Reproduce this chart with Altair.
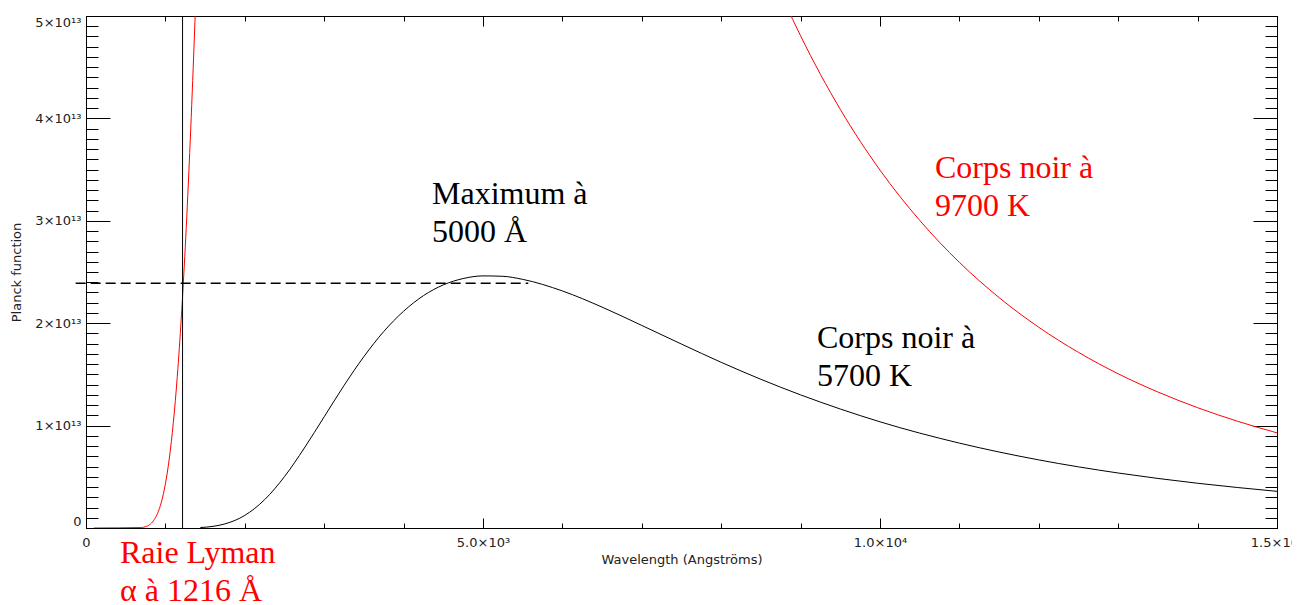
import altair as alt
import pandas as pd

# ---- data (wavelength in Angstroms, Planck function in SI) ----
BLACK_WL = [1440, 1600, 1750, 2000, 2250, 2500, 2750, 3000, 3250, 3500, 3750, 4000,
            4250, 4500, 4750, 5000, 5250, 5500, 6000, 6500, 7000, 7500, 8000, 8500,
            9000, 9500, 10000, 11000, 12000, 13000, 14000, 15000]
BLACK_B = [0.0047e13, 0.016e13, 0.040e13, 0.123e13, 0.277e13, 0.502e13, 0.781e13, 1.086e13,
           1.392e13, 1.674e13, 1.919e13, 2.117e13, 2.269e13, 2.374e13, 2.436e13, 2.462e13,
           2.458e13, 2.428e13, 2.315e13, 2.157e13, 1.978e13, 1.796e13, 1.618e13, 1.452e13,
           1.300e13, 1.162e13, 1.037e13, 0.829e13, 0.665e13, 0.537e13, 0.437e13, 0.358e13]

RED_WL = [100, 700, 750, 800, 850, 900, 950, 1000, 1050, 1100, 1150, 1200, 1250, 1300,
          1350, 1400, 1450, 8500, 8800, 8900, 9000, 9500, 10000, 10500, 11000, 11500,
          12000, 12500, 13000, 13500, 14000, 14500, 15000]
RED_B = [0.0, 0.0044e13, 0.0129e13, 0.032e13, 0.0708e13, 0.140e13, 0.255e13, 0.431e13,
         0.684e13, 1.030e13, 1.482e13, 2.051e13, 2.742e13, 3.556e13, 4.494e13, 5.545e13,
         6.702e13, 5.680e13, 5.134e13, 4.967e13, 4.806e13, 4.088e13, 3.495e13, 3.004e13,
         2.594e13, 2.250e13, 1.960e13, 1.715e13, 1.506e13, 1.328e13, 1.175e13, 1.043e13,
         0.929e13]

LYMAN_WL = [1216]
LYMAN_B0 = [0.0]
LYMAN_B1 = [5e13]

DASH_WL0 = [-130]
DASH_WL1 = [5570]
DASH_B = [2.39e13]

ANN_TEXT = ["Maximum à\n5000 Å", "Corps noir à\n5700 K", "Corps noir à\n9700 K",
            "Raie Lyman\nα à 1216 Å"]
ANN_WL = [4358, 9206, 10692, 428]
ANN_B = [3.161e13, 1.758e13, 3.415e13, -0.345e13]
ANN_COLOR = ["#000000", "#000000", "#ff0000", "#ff0000"]

X_TICKS = [0, 5000, 10000, 15000]
X_TICK_LABELS = ["0", "5.0×10³", "1.0×10⁴", "1.5×10⁴"]
Y_TICKS = [0, 1e13, 2e13, 3e13, 4e13, 5e13]
Y_TICK_LABELS = ["0", "1×10¹³", "2×10¹³", "3×10¹³", "4×10¹³", "5×10¹³"]
X_MINOR = list(range(0, 15001, 1000))
Y_MINOR = [i * 1e12 for i in range(51)]

W, H = 1191, 512
xs = alt.Scale(domain=[0, 15000], nice=False, zero=False)
ys = alt.Scale(domain=[0, 5e13], nice=False, zero=False)


def label_expr(vals, labels):
    parts = [f"datum.value == {v:.0f} ? '{l}'" for v, l in zip(vals, labels)]
    return " : ".join(parts) + " : ''"


def tick_axis(orient, values, size, offset, domain=False):
    return alt.Axis(orient=orient, values=values, tickSize=size, offset=offset,
                    labels=False, domain=domain, grid=False, title=None,
                    tickColor="#000000", tickWidth=1, domainColor="#000000", domainWidth=1)


red_df = pd.DataFrame({"wl": RED_WL, "b": RED_B})
black_df = pd.DataFrame({"wl": BLACK_WL, "b": BLACK_B})
lyman_df = pd.DataFrame({"wl": LYMAN_WL, "b0": LYMAN_B0, "b1": LYMAN_B1})
dash_df = pd.DataFrame({"wl0": DASH_WL0, "wl1": DASH_WL1, "b": DASH_B})
ann_df = pd.DataFrame({"t": ANN_TEXT, "wl": ANN_WL, "b": ANN_B, "c": ANN_COLOR})

x_main_axis = alt.Axis(orient="bottom", values=X_TICKS,
                       labelExpr=label_expr(X_TICKS, X_TICK_LABELS),
                       ticks=False, tickSize=0, labelPadding=8, labelFlush=False,
                       labelOverlap=False, labelFont="DejaVu Sans", labelFontSize=13,
                       labelColor="#222222", grid=False, domainColor="#000000",
                       title="Wavelength (Angströms)", titleFont="DejaVu Sans",
                       titleFontSize=13, titleFontWeight="normal", titleColor="#222222",
                       titleY=35, titleBaseline="alphabetic")
y_main_axis = alt.Axis(orient="left", values=Y_TICKS,
                       labelExpr=label_expr(Y_TICKS, Y_TICK_LABELS),
                       ticks=False, tickSize=0, labelPadding=5, labelFlush=True,
                       labelOverlap=False, labelFont="DejaVu Sans", labelFontSize=13,
                       labelColor="#222222", grid=False, domainColor="#000000",
                       title="Planck function", titleFont="DejaVu Sans",
                       titleFontSize=13, titleFontWeight="normal", titleColor="#222222",
                       titleX=-66, titleY=256, titleAngle=270, titleBaseline="alphabetic")

red = alt.Chart(red_df).mark_line(color="#ff0000", strokeWidth=1, clip=True,
                                  interpolate="monotone").encode(
    x=alt.X("wl:Q", scale=xs, axis=x_main_axis),
    y=alt.Y("b:Q", scale=ys, axis=y_main_axis),
)

black = alt.Chart(black_df).mark_line(color="#000000", strokeWidth=1, clip=True,
                                      interpolate="monotone").encode(
    x=alt.X("wl:Q", scale=xs, axis=tick_axis("top", X_TICKS, 10, -H)),
    y=alt.Y("b:Q", scale=ys, axis=tick_axis("right", Y_TICKS, 24, -W)),
)

lyman = alt.Chart(lyman_df).mark_rule(color="#000000", strokeWidth=1).encode(
    x=alt.X("wl:Q", scale=xs, axis=tick_axis("top", X_MINOR, 5, -H)),
    y=alt.Y("b0:Q", scale=ys, axis=tick_axis("right", Y_MINOR, 12, -W)),
    y2="b1:Q",
)

dash = alt.Chart(dash_df).mark_rule(color="#000000", strokeWidth=1.6,
                                    strokeDash=[10, 5]).encode(
    x=alt.X("wl0:Q", scale=xs, axis=tick_axis("bottom", X_TICKS, 10, -H, domain=True)),
    x2="wl1:Q",
    y=alt.Y("b:Q", scale=ys, axis=tick_axis("left", Y_TICKS, 24, -W, domain=True)),
)

text = alt.Chart(ann_df).mark_text(align="left", baseline="alphabetic",
                                   font="Liberation Serif", fontSize=32,
                                   lineBreak="\n", lineHeight=38).encode(
    x=alt.X("wl:Q", scale=xs, axis=tick_axis("bottom", X_MINOR, 5, -H)),
    y=alt.Y("b:Q", scale=ys, axis=tick_axis("left", Y_MINOR, 12, -W)),
    text="t:N",
    color=alt.Color("c:N", scale=None),
)

chart = alt.layer(red, black, lyman, dash, text).resolve_axis(
    x="independent", y="independent"
).properties(
    width=W, height=H,
    autosize=alt.AutoSizeParams(type="none"),
    padding={"left": 78, "top": 8, "right": 15, "bottom": 82},
    background="#ffffff",
).configure_view(stroke=None)

chart.save("out.html", embed_options={"renderer": "svg", "actions": False})
